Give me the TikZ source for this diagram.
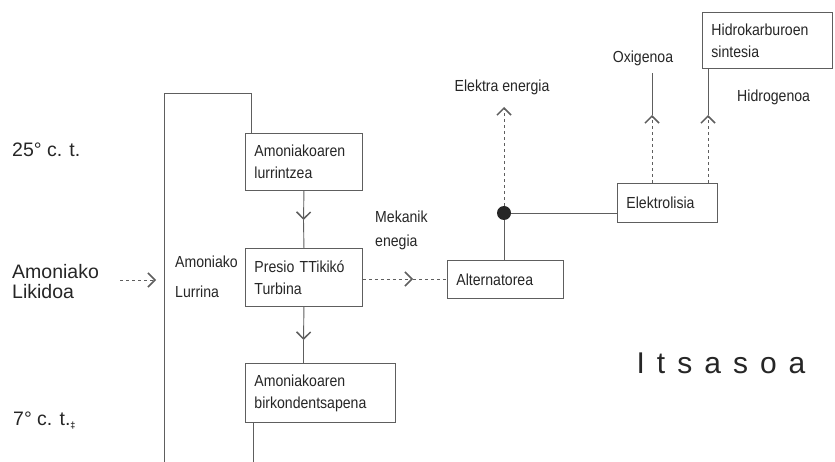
\documentclass[tikz,border=0pt]{standalone}
\usepackage{fontspec}
\setmainfont{Liberation Sans}
\newfontfamily\narrowfont[FakeStretch=0.88]{Liberation Sans}
\usetikzlibrary{arrows.meta}
\definecolor{ink}{HTML}{262626}
\definecolor{linec}{HTML}{5E5E5E}
\tikzset{
  box/.style={draw=linec, line width=0.9pt, anchor=north west, inner xsep=9pt, inner ysep=0pt,
    align=left, text=ink, font=\narrowfont\fontsize{16}{22}\selectfont},
  lbl/.style={text=ink, inner sep=0pt, font=\narrowfont\fontsize{16}{22}\selectfont},
  biglbl/.style={text=ink, inner sep=0pt, anchor=west, align=left, font=\fontsize{19.5}{20}\selectfont},
  conn/.style={draw=linec, line width=0.9pt},
  barb/.style={-{Straight Barb[length=7pt,width=14pt,line width=1.5pt]}},
}
\begin{document}
\begin{tikzpicture}[x=1pt,y=-1pt]
\useasboundingbox[fill=white] (0,0) rectangle (835,462);

% boxes
\node[box, text width=99pt, minimum width=117pt, minimum height=57pt] (b1) at (245,133) {Amoniakoaren\\lurrintzea};
\node[box, text width=99pt, minimum width=117pt, minimum height=58pt] (b2) at (245,248) {Presio TTikikó\\Turbina};
\node[box, text width=132pt, minimum width=150pt, minimum height=59pt] (b3) at (245,363) {Amoniakoaren\\birkondentsapena};
\node[box, text width=98pt, minimum width=116pt, minimum height=38pt] (alt) at (447,260) {Alternatorea};
\node[box, text width=82pt, minimum width=100pt, minimum height=39pt] (elk) at (617,183) {Elektrolisia};
\node[box, text width=112pt, minimum width=130pt, minimum height=56pt] (hid) at (702,12) {Hidrokarburoen\\sintesia};

% labels
\node[biglbl] (t25) at (12,150) {25° c. t.};
\node[biglbl] (liq) at (12,282) {Amoniako\\Likidoa};
\node[biglbl] (t7) at (13,421) {7° c. t.\raisebox{-3pt}{\fontsize{9}{9}\selectfont\bfseries\char"2021}};
\node[lbl, anchor=west, align=left, font=\narrowfont\fontsize{16}{30}\selectfont] (vap) at (175,277) {Amoniako\\Lurrina};
\node[lbl, anchor=west, align=left, font=\narrowfont\fontsize{16}{24}\selectfont] (mek) at (375,230) {Mekanik\\enegia};
\node[lbl] (ee) at (502,87) {Elektra energia};
\node[lbl] (oxi) at (643,58) {Oxigenoa};
\node[lbl, anchor=west] (hgen) at (737,97) {Hidrogenoa};
\node[text=ink, inner sep=0pt, font=\fontsize{30}{30}\selectfont] (sea) at (721,363)
  {I\kern12pt t\kern12pt s\kern12pt a\kern12pt s\kern12pt o\kern12pt a};

% coordinates
\coordinate (topL) at (164,93);
\coordinate (botL) at (164,462);
\coordinate (topR) at (251,93);
\coordinate (botR) at (253,462);
\coordinate (a1) at (303.5,220);
\coordinate (a2) at (303.5,340);
\coordinate (lqs) at (120,280);
\coordinate (lqt) at (156,280);
\coordinate (mkt) at (413,279);
\node[circle, fill=ink, inner sep=0pt, minimum size=14pt] (dot) at (504,213) {};
\coordinate (eet) at (504,107);
\coordinate (oxt) at (652,115);
\coordinate (oxe) at (652,73);
\coordinate (hyt) at (708,115);

% connectors
\draw[conn] (botL) -- (topL) -- (topR) -- (topR |- b1.north);
\draw[conn, barb] (b1.south) -- (a1);
\draw[conn] (a1) -- (b2.north);
\draw[conn, barb] (b2.south) -- (a2);
\draw[conn] (a2) -- (a2 |- b3.north);
\draw[conn] (botR |- b3.south) -- (botR);
\draw[conn, dashed, barb] (lqs) -- (lqt);
\draw[conn, dashed, barb] (b2.east |- mkt) -- (mkt);
\draw[conn, dashed] (mkt) -- (alt.west |- mkt);
\draw[conn] (dot |- alt.north) -- (dot);
\draw[conn, dashed, barb] (dot) -- (eet);
\draw[conn] (dot) -- (dot -| elk.west);
\draw[conn, dashed, barb] (oxt |- elk.north) -- (oxt);
\draw[conn] (oxt) -- (oxe);
\draw[conn, dashed, barb] (hyt |- elk.north) -- (hyt);
\draw[conn] (hyt) -- (hyt |- hid.south);
\end{tikzpicture}
\end{document}
